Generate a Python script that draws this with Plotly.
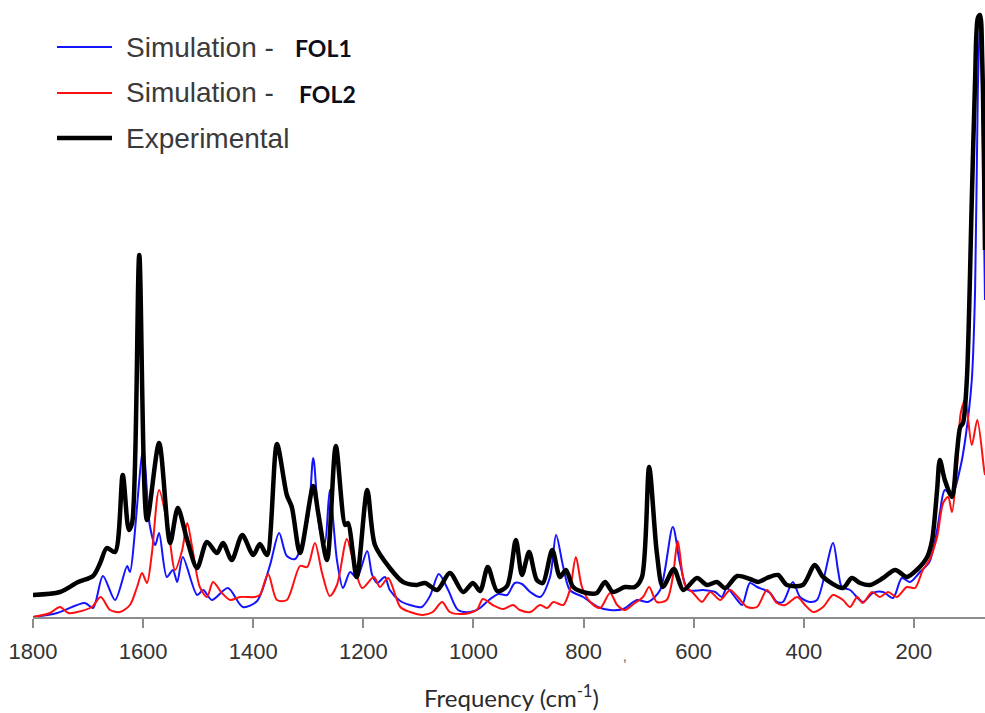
import plotly.graph_objects as go

# Raman spectra: frequency (cm-1) and intensity (a.u.)
exp_freq = [1800, 1751, 1718, 1691, 1678, 1666, 1651, 1637, 1626, 1620, 1607, 1593, 1571, 1551,
            1537, 1520, 1502, 1484, 1466, 1455, 1439, 1420, 1400, 1388, 1375, 1357, 1339, 1330,
            1315, 1291, 1282, 1266, 1250, 1233, 1228, 1212, 1193, 1179, 1152, 1128, 1103, 1088,
            1066, 1043, 1019, 1001, 988, 974, 957, 939, 923, 912, 899, 885, 874, 857, 843, 832,
            819, 794, 776, 761, 747, 725, 707, 694, 681, 667, 656, 636, 619, 594, 576, 558, 543,
            521, 498, 483, 467, 447, 431, 402, 380, 365, 329, 313, 298, 280, 256, 234, 213, 195,
            176, 167, 158, 153, 144, 131, 122, 116, 111, 104, 95, 89, 84, 80, 76, 71]
exp_int = [22, 25, 35, 41, 54, 69, 65, 142, 87, 94, 362, 97, 174, 74,
           109, 77, 49, 75, 64, 74, 57, 82, 62, 73, 62, 173, 122, 110,
           64, 131, 104, 57, 171, 92, 94, 40, 127, 72, 49, 35, 32, 34,
           27, 44, 25, 34, 26, 50, 26, 31, 77, 42, 65, 37, 34, 67, 40, 47,
           30, 24, 24, 35, 25, 30, 30, 40, 150, 64, 30, 48, 27, 39, 32, 35, 29,
           41, 38, 35, 39, 42, 32, 32, 52, 40, 29, 39, 34, 32, 39, 47, 40, 47,
           60, 77, 127, 157, 137, 120, 164, 190, 194, 237, 417, 537, 599, 602, 557, 367]

fol1_freq = [1800, 1756, 1706, 1691, 1673, 1651, 1629, 1624, 1600, 1588, 1578, 1571, 1557, 1546,
             1538, 1528, 1502, 1491, 1475, 1446, 1419, 1393, 1370, 1353, 1339, 1324, 1301, 1291,
             1279, 1270, 1261, 1248, 1237, 1224, 1212, 1193, 1184, 1175, 1161, 1152, 1133, 1115,
             1094, 1079, 1063, 1046, 1028, 1006, 988, 974, 955, 939, 925, 912, 897, 879, 861, 850,
             837, 825, 801, 774, 752, 728, 703, 683, 661, 638, 625, 610, 583, 561, 549, 540, 521,
             512, 498, 485, 471, 461, 449, 438, 420, 407, 389, 376, 347, 338, 331, 316, 293, 275,
             256, 238, 222, 207, 189, 172, 158, 153, 144, 131, 116, 107, 95, 89, 84, 80, 76, 71]
fol1_int = [0, 4, 14, 9, 41, 17, 51, 45, 167, 92, 72, 84, 40, 47,
            35, 60, 22, 27, 17, 29, 10, 16, 51, 84, 61, 58, 97, 159,
            87, 74, 127, 57, 29, 45, 39, 66, 42, 34, 40, 27, 16, 12,
            10, 21, 43, 27, 7, 5, 9, 16, 23, 22, 34, 33, 25, 20, 40, 82,
            50, 27, 20, 10, 7, 8, 17, 15, 27, 90, 54, 27, 27, 25, 20, 29, 17,
            12, 34, 30, 27, 24, 15, 15, 35, 20, 15, 17, 74, 47, 30, 27, 15, 24,
            25, 19, 39, 35, 45, 55, 87, 104, 127, 122, 149, 177, 237, 327, 527, 597, 517, 317]

fol2_freq = [1800, 1769, 1751, 1736, 1720, 1693, 1677, 1660, 1642, 1624, 1611, 1602, 1593, 1584,
             1571, 1555, 1542, 1529, 1520, 1511, 1497, 1484, 1473, 1457, 1442, 1424, 1397, 1388,
             1373, 1357, 1339, 1315, 1302, 1288, 1275, 1261, 1248, 1230, 1219, 1202, 1181, 1170,
             1155, 1133, 1115, 1092, 1074, 1057, 1043, 1019, 994, 983, 965, 946, 928, 916, 897,
             879, 866, 855, 837, 825, 814, 803, 788, 770, 752, 739, 725, 707, 692, 681, 667, 649,
             638, 629, 616, 601, 585, 570, 552, 534, 520, 503, 485, 467, 449, 434, 412, 398, 383,
             365, 347, 329, 316, 303, 293, 276, 262, 247, 231, 213, 198, 184, 172, 158, 147, 138,
             131, 122, 115, 107, 95, 85, 73, 71]
fol2_int = [0, 4, 10, 4, 5, 10, 20, 7, 5, 12, 30, 44, 34, 64,
            127, 90, 47, 67, 94, 70, 30, 20, 35, 24, 17, 20, 20, 22,
            43, 17, 17, 51, 50, 74, 44, 21, 32, 78, 57, 29, 40, 30,
            39, 10, 5, 2, 5, 15, 5, 3, 7, 18, 12, 8, 12, 7, 5,
            12, 9, 15, 12, 27, 60, 30, 15, 9, 24, 12, 7, 14, 20, 30, 15, 17,
            40, 76, 32, 24, 15, 25, 17, 27, 20, 10, 10, 27, 14, 12, 20, 12, 5,
            10, 22, 17, 10, 20, 14, 25, 20, 25, 20, 30, 29, 47, 57, 80, 114, 120,
            105, 150, 204, 217, 172, 197, 149, 142]

tick_vals = [1800, 1600, 1400, 1200, 1000, 800, 600, 400, 200]

W, H = 985, 713
M_L, M_R, M_T, M_B = 33, 0, 12, 96
PLOT_W, PLOT_H = W - M_L - M_R, H - M_T - M_B


def px_x(px):
    return (px - M_L) / PLOT_W


def px_y(py):
    return (H - M_B - py) / PLOT_H


line_style = dict(shape="spline", smoothing=0.8)

fig = go.Figure()
fig.add_trace(go.Scatter(x=fol1_freq, y=fol1_int, mode="lines", name="Simulation - FOL1",
                         line=dict(color="#1414ff", width=2, **line_style), showlegend=False))
fig.add_trace(go.Scatter(x=fol2_freq, y=fol2_int, mode="lines", name="Simulation - FOL2",
                         line=dict(color="#ff1010", width=2, **line_style), showlegend=False))
fig.add_trace(go.Scatter(x=exp_freq, y=exp_int, mode="lines", name="Experimental",
                         line=dict(color="#000000", width=4.5, **line_style), showlegend=False))

# hand-placed legend
legend_rows = [("#1414ff", 2, 47, "Simulation -", "FOL1", 293),
               ("#ff1010", 2, 93, "Simulation -", "FOL2", 297),
               ("#000000", 4.5, 138, "Experimental", None, None)]
shapes = []
annotations = []
for color, width, py, label, bold, bx in legend_rows:
    shapes.append(dict(type="line", xref="paper", yref="paper",
                       x0=px_x(57), x1=px_x(112), y0=px_y(py), y1=px_y(py),
                       line=dict(color=color, width=width)))
    annotations.append(dict(xref="paper", yref="paper", x=px_x(124), y=px_y(py),
                            xanchor="left", yanchor="middle", showarrow=False, text=label,
                            font=dict(family="Liberation Sans, Arial", size=28, color="#3a3a3a")))
    if bold:
        annotations.append(dict(xref="paper", yref="paper", x=px_x(bx), y=px_y(py + 1),
                                xanchor="left", yanchor="middle", showarrow=False,
                                text="<b>%s</b>" % bold,
                                font=dict(family="Lato, Open Sans", size=23, color="#0d0d1a")))

annotations.append(dict(xref="paper", yref="paper", x=px_x(511), y=px_y(696),
                        xanchor="center", yanchor="middle", showarrow=False,
                        text="Frequency (cm<sup>-1</sup>)",
                        font=dict(family="Lato, Open Sans", size=24, color="#2b2b2b")))
annotations.append(dict(xref="paper", yref="paper", x=px_x(625), y=px_y(655),
                        xanchor="center", yanchor="middle", showarrow=False, text="\u201a",
                        font=dict(family="Liberation Sans, Arial", size=16, color="#666666")))

fig.update_layout(
    width=W, height=H,
    margin=dict(l=M_L, r=M_R, t=M_T, b=M_B, pad=0),
    paper_bgcolor="white", plot_bgcolor="white",
    shapes=shapes, annotations=annotations,
    xaxis=dict(range=[1800, 71], tickvals=tick_vals, ticktext=[str(v) for v in tick_vals],
               showgrid=False, zeroline=False, showline=True, linecolor="#8c8c8c", linewidth=2,
               ticks="outside", ticklen=9, tickwidth=1.5, tickcolor="#8c8c8c",
               ticklabelstandoff=5,
               tickfont=dict(family="Liberation Sans, Arial", size=22, color="#333333")),
    yaxis=dict(range=[0, PLOT_H], visible=False, showgrid=False, zeroline=False),
)

fig.write_html("out.html")
